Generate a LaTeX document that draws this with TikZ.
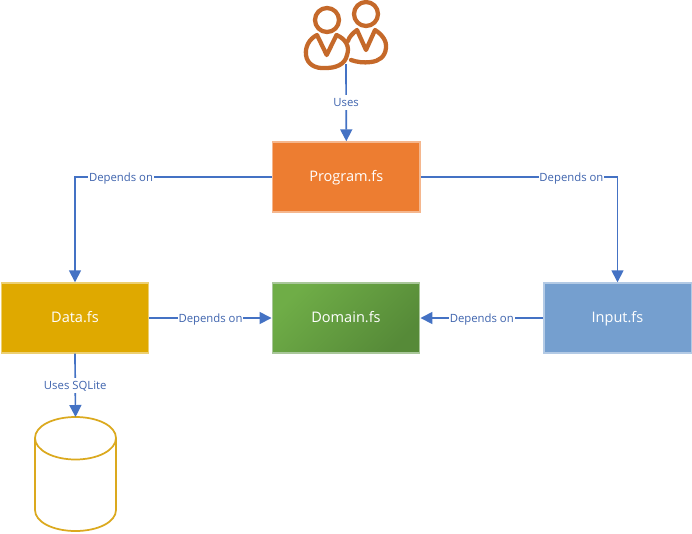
\documentclass[tikz,border=0pt]{standalone}
\usepackage{fontspec}
\setmainfont{Open Sans}
\usetikzlibrary{arrows.meta}
\definecolor{linkblue}{HTML}{4472C4}
\definecolor{labelblue}{HTML}{3F64AE}
\definecolor{orangefill}{HTML}{ED7D31}
\definecolor{goldfill}{HTML}{DFA900}
\definecolor{bluefill}{HTML}{759FCF}
\definecolor{iconbrown}{HTML}{C5692A}
\definecolor{dbgold}{HTML}{DBA91E}
\definecolor{greenlight}{HTML}{6FAD47}
\definecolor{greenmid}{HTML}{5F983D}
\definecolor{greendark}{HTML}{568A38}
\definecolor{greenedge}{HTML}{A9C79A}
\tikzset{
  x=0.75pt,y=-0.75pt,
  modulebox/.style={minimum width=110.6pt,minimum height=52.5pt,inner sep=0pt,line width=1.1pt,text=white,text height=9pt,text depth=2pt,font=\fontsize{10.9pt}{12pt}\selectfont},
  link/.style={draw=linkblue,line width=1.25pt,-{Triangle[length=9pt,width=9pt]}},
  linklabel/.style={fill=white,text=labelblue,inner xsep=0.6pt,inner ysep=0.5pt,text height=8pt,text depth=2pt,font=\fontsize{8.5pt}{10pt}\selectfont},
  iconline/.style={draw=iconbrown,line width=3.2pt,line join=round,line cap=round},
  dbline/.style={draw=dbgold,line width=1.3pt}
}
\begin{document}
\begin{tikzpicture}
\useasboundingbox (0,0) rectangle (692,533);
\fill[white] (0,0) rectangle (692,533);
\node[modulebox,fill=orangefill,draw=orangefill!55!white] (program) at (346.3,177) {Program.fs};
\node[modulebox,draw=goldfill!55!white,fill=goldfill] (data) at (75,318) {Data.fs};
\node[modulebox,draw=bluefill!55!white,fill=bluefill] (input) at (617.5,318) {Input.fs};
\node[modulebox,draw=greenedge,top color=greenlight,middle color=greenmid,bottom color=greendark,shading angle=45] (domain) at (346,318) {Domain.fs};
% people icon
\draw[iconline] (327,20) circle (12);
\draw[iconline] (366,14) circle (12);
\draw[iconline] (317,35) -- (326.7,55) -- (336.5,35) .. controls (346,39) and (350,47) .. (347,55) .. controls (345,65) and (335,68) .. (326,68) .. controls (315,69) and (307,64) .. (306,55) .. controls (305,47) and (309,39) .. (317,35) -- cycle;
\draw[iconline] (348,41) .. controls (349,37) and (353,33) .. (357,30) -- (366,50) -- (375,30) .. controls (383,35) and (387,42) .. (386,48) .. controls (385,57) and (379,61) .. (371,62) .. controls (363,63) and (357,62) .. (351,60);
% database
\coordinate (dbtop) at (75.5,417);
\draw[dbline] (35,438) .. controls (35,426) and (53,417) .. (75.5,417) .. controls (98,417) and (116,426) .. (116,438) .. controls (116,450) and (98,459.5) .. (75.5,459.5) .. controls (53,459.5) and (35,450) .. (35,438) -- (35,510) .. controls (35,522) and (53,531) .. (75.5,531) .. controls (98,531) and (116,522) .. (116,510) -- (116,438);
\coordinate (users) at (346,64);
\draw[link] (users) -- node[linklabel] {Uses} (program.north);
\draw[link] (program.west) -| node[linklabel,pos=.383] {Depends on} (data.north);
\draw[link] (program.east) -| node[linklabel,pos=.383] {Depends on} (input.north);
\draw[link] (data.east) -- node[linklabel] {Depends on} (domain.west);
\draw[link] (input.west) -- node[linklabel] {Depends on} (domain.east);
\draw[link] (data.south) -- node[linklabel] {Uses SQLite} (dbtop);
\end{tikzpicture}
\end{document}
